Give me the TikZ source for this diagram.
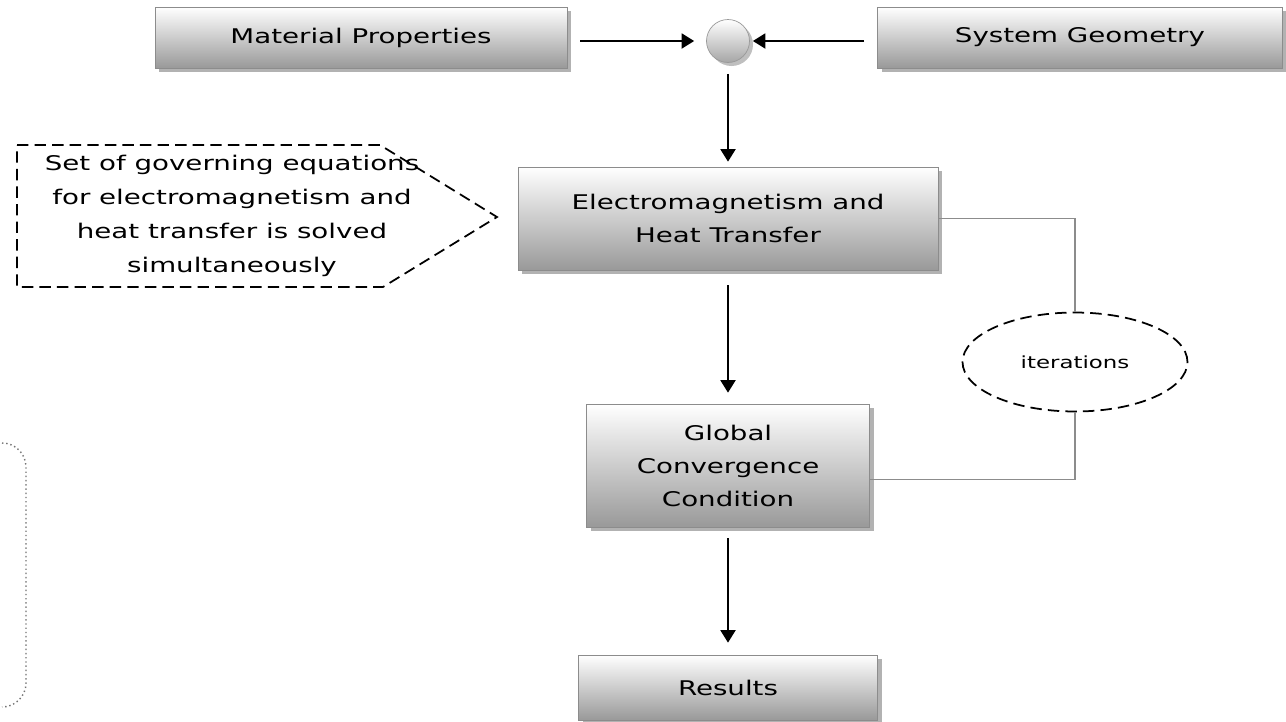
\documentclass[tikz,border=0pt]{standalone}
\usepackage{fontspec}
\setmainfont{DejaVu Sans}[FakeStretch=1.37]
\usetikzlibrary{arrows.meta, positioning, shapes.geometric, shadows, calc}

\begin{document}
\begin{tikzpicture}[x=0.02cm, y=-0.02cm,
    block/.style={draw=black!45, top color=white, bottom color=black!40,
                drop shadow={shadow xshift=2.5pt, shadow yshift=-2.5pt, opacity=0.3, fill=black},
                align=center, font=\fontsize{11.5}{18.8}\selectfont, inner sep=2pt},
    junction/.style={circle, draw=black!40, top color=white, bottom color=black!35,
                drop shadow={shadow xshift=2pt, shadow yshift=-2pt, opacity=0.25, fill=black},
                minimum size=0.86cm, inner sep=0pt},
    arr/.style={-{Triangle[length=2.5mm, width=3mm]}, line width=1.1pt},
    loopline/.style={draw=black!45, line width=0.8pt},
    iter/.style={ellipse, draw, dash pattern=on 6.5pt off 3.5pt, line width=1pt,
                minimum width=4.5cm, minimum height=1.98cm, inner sep=0pt,
                font=\fontsize{9.5}{11}\selectfont},
    note/.style={align=center, font=\fontsize{11.5}{19.5}\selectfont},
    callout/.style={dash pattern=on 6.5pt off 3.5pt, line width=1pt},
    bracket/.style={draw=black!55, dash pattern=on 0.8pt off 1.6pt, line width=0.8pt, rounded corners=0.48cm}
]
    \fill[white] (0,0) rectangle (1286,721);
    \useasboundingbox (0,0) rectangle (1286,721);

    % inputs
    \node[block, minimum width=8.24cm, minimum height=1.22cm] (mat) at (361,37.5) {Material Properties};
    \node[block, minimum width=8.1cm, minimum height=1.22cm] (sysg) at (1080,37.5) {System Geometry};
    \node[junction] (junc) at (728,41) {};

    % main chain
    \node[block, minimum width=8.4cm, minimum height=2.06cm] (em) at (728,218.5)
        {Electromagnetism and\\ Heat Transfer};
    \node[block, minimum width=5.66cm, minimum height=2.46cm] (glob) at (728,465.5)
        {Global\\ Convergence\\ Condition};
    \node[block, minimum width=5.98cm, minimum height=1.3cm] (res) at (728,687.5) {Results};

    \node[iter] (iter) at (1075,362) {iterations};

    % note
    \draw[callout] (17,145) -- (380,145) -- (497,217) -- (383,287) -- (17,287) -- cycle;
    \node[note] (note) at (232,216)
        {Set of governing equations\\ for electromagnetism and\\ heat transfer is solved\\ simultaneously};

    \draw[bracket] (2,443) -- (26,443) -- (26,707) -- (2,707);

    % connectors
    \draw[arr, shorten <=0.26cm, shorten >=0.24cm] (mat.east |- junc) -- (junc);
    \draw[arr, shorten <=0.26cm, shorten >=0.06cm] (sysg.west |- junc) -- (junc);
    \draw[arr, shorten <=0.22cm, shorten >=0.1cm] (junc) -- (em);
    \draw[arr, shorten <=0.3cm, shorten >=0.22cm] (em) -- (glob);
    \draw[arr, shorten <=0.22cm, shorten >=0.24cm] (glob) -- (res);

    \draw[loopline] (em.east) -| (iter.north);
    \draw[loopline] (iter.south) |- ($(glob.east)+(0,14)$);
\end{tikzpicture}
\end{document}
